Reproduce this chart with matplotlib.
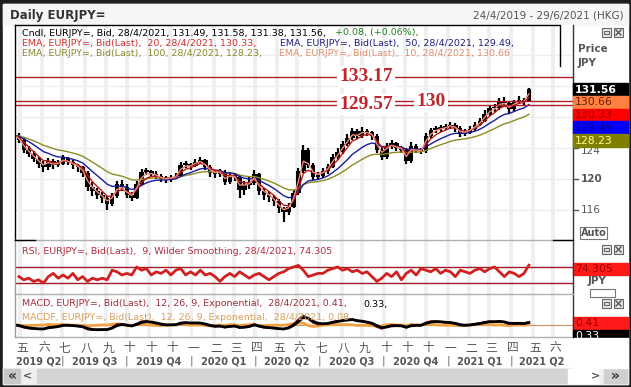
import numpy as np
import pandas as pd
import matplotlib
matplotlib.use("Agg")
import matplotlib.pyplot as plt
from matplotlib.patches import Rectangle

W, H = 631, 387

# weekly EURJPY= candles, 24/4/2019 .. 28/4/2021
first_open = 125.6
closes = [125.0, 123.8, 123.2, 122.6, 122.0, 121.5, 122.3, 121.8, 122.0, 122.7,
          122.2, 121.8, 121.5, 120.8, 119.0, 118.4, 118.0, 117.5, 116.8, 117.8,
          119.3, 119.0, 118.0, 117.6, 119.4, 120.9, 121.0, 120.7, 120.4, 120.0,
          119.9, 120.2, 120.4, 121.8, 121.9, 121.7, 122.2, 122.4, 121.6, 120.8,
          120.6, 120.9, 119.6, 120.5, 120.3, 118.6, 119.2, 119.5, 120.6, 118.5,
          118.0, 117.7, 117.1, 116.2, 115.7, 116.4, 118.2, 121.0, 123.8, 121.8,
          120.3, 120.4, 121.0, 121.6, 122.8, 123.5, 124.5, 125.3, 126.2, 125.6,
          126.2, 126.0, 125.6, 123.8, 122.8, 124.2, 124.6, 124.0, 123.8, 122.3,
          124.3, 123.7, 123.6, 125.6, 126.3, 126.5, 126.6, 126.7, 127.0, 126.6,
          125.8, 126.0, 126.4, 127.0, 127.5, 128.4, 129.1, 129.2, 130.0, 129.8,
          129.0, 129.9, 130.2, 130.0, 131.56]
highs = [126.0, 125.3, 124.2, 123.6, 122.9, 122.3, 122.7, 122.6, 122.5, 123.1,
         122.9, 122.4, 122.0, 121.7, 121.0, 119.6, 118.9, 118.3, 117.8, 118.2,
         119.8, 119.9, 119.3, 118.3, 119.7, 121.3, 121.4, 121.2, 121.0, 120.6,
         120.4, 120.5, 120.8, 122.2, 122.3, 122.1, 122.6, 122.8, 122.6, 121.8,
         121.1, 121.3, 121.1, 120.9, 120.8, 120.5, 119.8, 120.2, 121.2, 120.8,
         118.9, 118.4, 118.0, 117.4, 116.4, 116.9, 118.6, 121.4, 124.4, 124.0,
         122.1, 120.9, 121.4, 122.0, 123.2, 124.0, 124.9, 125.8, 126.6, 126.5,
         126.7, 126.5, 126.2, 125.8, 124.1, 124.6, 125.0, 124.8, 124.3, 124.0,
         124.8, 124.5, 124.0, 126.0, 126.6, 126.8, 127.0, 127.1, 127.4, 127.2,
         126.8, 126.4, 126.8, 127.4, 127.9, 128.9, 129.6, 129.7, 130.4, 130.6,
         130.0, 130.2, 130.7, 130.5, 131.7]
lows = [124.6, 123.4, 122.8, 122.2, 121.4, 120.9, 121.2, 121.3, 121.5, 121.8,
        121.8, 121.3, 120.9, 120.3, 118.5, 117.8, 117.4, 116.9, 116.0, 116.5,
        117.6, 118.5, 117.6, 117.1, 117.4, 119.2, 120.5, 120.3, 120.0, 119.6,
        119.5, 119.6, 120.0, 120.2, 121.4, 121.2, 121.5, 121.9, 121.2, 120.3,
        120.1, 120.2, 119.2, 119.3, 119.8, 117.5, 117.9, 118.7, 119.2, 117.9,
        117.3, 117.0, 116.5, 115.6, 114.5, 115.3, 116.2, 118.0, 120.8, 121.4,
        119.9, 119.9, 120.1, 120.7, 121.4, 122.5, 123.2, 124.2, 125.0, 125.1,
        125.3, 125.5, 125.0, 123.3, 122.4, 122.6, 123.9, 123.6, 123.3, 121.9,
        122.1, 123.3, 123.2, 123.4, 125.3, 126.0, 126.1, 126.3, 126.4, 126.1,
        125.4, 125.5, 125.8, 126.2, 126.8, 127.3, 128.1, 128.7, 128.9, 129.3,
        128.4, 128.8, 129.7, 129.6, 129.9]
rsi = [46, 38, 42, 34, 38, 30, 46, 54, 42, 50, 42, 54, 38, 46, 34, 42, 38, 42, 38, 62,
       58, 50, 54, 50, 70, 62, 66, 50, 58, 54, 62, 50, 62, 66, 50, 58, 50, 62, 50, 54,
       46, 34, 46, 54, 46, 58, 50, 42, 50, 54, 46, 38, 46, 54, 58, 66, 70, 74, 62, 46,
       50, 54, 54, 62, 66, 70, 62, 66, 58, 62, 54, 58, 46, 34, 42, 54, 46, 58, 38, 54,
       62, 50, 66, 62, 58, 66, 54, 62, 58, 46, 62, 58, 54, 62, 66, 58, 66, 70, 58, 46,
       58, 54, 46, 54, 74.305]

ema_periods = [10, 20, 50, 100]
ema_colors = ["#f08a78", "#b81818", "#1a1a9a", "#8c8c24"]

levels = [133.17, 130.0, 129.57]
level_labels = ["133.17", "130", "129.57"]
level_label_x = [366, 431, 366]   # pixel x of the label centres

month_labels = ["一", "二", "三", "四", "五", "六", "七", "八", "九", "十", "十", "十"]

# side boxes: value, box colour, text colour
side_boxes = [("131.56", "#000000", "#ffffff"), ("130.66", "#ff8040", "#6a2000"),
              ("130.33", "#ff0000", "#a00000"), ("129.49", "#0000ff", "#000090"),
              ("128.23", "#808000", "#ffff90")]

days = pd.bdate_range("2019-04-24", "2021-06-29")
N = len(days)
xs = np.arange(len(closes)) * 5 + 4
opens = [first_open] + closes[:-1]


def px(i):
    return 15 + i * (558 / (N - 1))


def rect(x0, y0, x1, y1):
    return [x0 / W, 1 - y1 / H, (x1 - x0) / W, (y1 - y0) / H]


def ema(vals, n):
    a = 1 - (1 - 2 / (n + 1)) ** 5    # daily period -> weekly step
    return pd.Series(vals).ewm(alpha=a, adjust=False).mean().values


fig = plt.figure(figsize=(W / 100, H / 100), dpi=100, facecolor="#1e1e1e")

bg = fig.add_axes([0, 0, 1, 1], zorder=-1)
bg.set_xlim(0, W)
bg.set_ylim(H, 0)
bg.axis("off")
bg.add_patch(Rectangle((3, 4), 625, 380, color="#ffffff"))
bg.add_patch(Rectangle((3, 4), 625, 21, color="#f6f6f6"))

month_idx = [i for i in range(1, N) if days[i].month != days[i - 1].month]

ax = fig.add_axes(rect(15, 25, 573, 240))
ax_rsi = fig.add_axes(rect(15, 240, 573, 294))
ax_macd = fig.add_axes(rect(15, 294, 573, 337))
for a in (ax, ax_rsi, ax_macd):
    a.set_xlim(0, N - 1)
    a.set_xticks([])
    a.set_yticks([])
    for s in a.spines.values():
        s.set_visible(False)
    for i in month_idx:
        a.axvspan(i - 2, i + 2, color="#efefef", lw=0, zorder=0)

# main price panel
ax.set_ylim(112.13, 139.87)
for g in range(116, 140, 4):
    ax.axhline(g, color="#eeeeee", lw=1, zorder=0)
ax.vlines(xs, lows, highs, color="black", lw=1.6, zorder=2)
body_lo = np.minimum(opens, closes)
body_h = np.maximum(np.abs(np.array(closes) - np.array(opens)), 0.25)
ax.bar(xs, body_h, bottom=body_lo, width=4.6, color="black", zorder=2)

ema_x = np.concatenate([[0], xs])
ema_src = [first_open] + closes
for n, c in zip(ema_periods[::-1], ema_colors[::-1]):
    ax.plot(ema_x, ema(ema_src, n), color=c, lw=1, zorder=3)

for lv, lab, lx in zip(levels, level_labels, level_label_x):
    ax.axhline(lv, color="#b0202a", lw=1, zorder=4)
    ax.text((lx - 15) * (N - 1) / 558, lv, lab, ha="center", va="center",
            fontsize=14, fontweight="bold", family="Liberation Serif", color="#c0272d",
            bbox=dict(facecolor="white", edgecolor="none", pad=1.5), zorder=5)

# RSI panel
ax_rsi.set_ylim(2.5, 137.5)
ax_rsi.axhline(70, color="#a01c24", lw=1)
ax_rsi.axhline(30, color="#a01c24", lw=1)
ax_rsi.plot(xs, rsi, color="#d02020", lw=2)

# MACD panel
e12 = ema(ema_src, 12)
e26 = ema(ema_src, 26)
macd = e12 - e26
sig = pd.Series(macd).ewm(alpha=1 - (1 - 2 / 10) ** 5, adjust=False).mean().values
hist = macd - sig
R = 8.0
ax_macd.set_ylim(-0.279 * R, 0.721 * R)
ax_macd.axhline(0, color="#c89060", lw=0.8)
ax_macd.plot(ema_x, hist, color="#f0a040", lw=2)
ax_macd.plot(ema_x, macd, color="#8b1010", lw=1.5)
ax_macd.plot(ema_x, sig, color="black", lw=2)

# overlay: frames, texts, side panel
ov = fig.add_axes([0, 0, 1, 1], zorder=5)
ov.set_xlim(0, W)
ov.set_ylim(H, 0)
ov.axis("off")
ov.patch.set_alpha(0)

ov.plot([15, 15], [25, 240], color="black", lw=1)
ov.plot([15, 15], [240, 337], color="#999999", lw=1)
ov.plot([573, 573], [25, 337], color="#333333", lw=1)
for y in (240, 294, 337):
    ov.plot([15, 573], [y, y], color="#b0b0b0", lw=1)
ov.plot([15, 35], [240, 240], color="black", lw=1)
ov.plot([553, 573], [240, 240], color="black", lw=1)
ov.plot([15, 560, 560], [25, 25, 66], color="black", lw=1)

ov.text(10, 15, "Daily EURJPY=", fontsize=8.5, fontweight="bold", color="#333333", va="center")
ov.text(624, 15, "24/4/2019 - 29/6/2021 (HKG)", fontsize=7.5, color="#555555", va="center", ha="right")

fs = 6.8
ov.text(22, 33, "Cndl, EURJPY=, Bid, 28/4/2021, 131.49, 131.58, 131.38, 131.56,", fontsize=fs, color="black", va="center")
ov.text(335, 33, "+0.08, (+0.06%),", fontsize=fs, color="#208020", va="center")
ov.text(22, 43, "EMA, EURJPY=, Bid(Last),  20, 28/4/2021, 130.33,", fontsize=fs, color="#d03030", va="center")
ov.text(280, 43, "EMA, EURJPY=, Bid(Last),  50, 28/4/2021, 129.49,", fontsize=fs, color="#202080", va="center")
ov.text(22, 53, "EMA, EURJPY=, Bid(Last),  100, 28/4/2021, 128.23,", fontsize=fs, color="#8a8a30", va="center")
ov.text(279, 53, "EMA, EURJPY=, Bid(Last),  10, 28/4/2021, 130.66", fontsize=fs, color="#e09070", va="center")
ov.text(22, 251, "RSI, EURJPY=, Bid(Last),  9, Wilder Smoothing, 28/4/2021, 74.305", fontsize=fs, color="#b03040", va="center")
ov.text(22, 304, "MACD, EURJPY=, Bid(Last),  12, 26, 9, Exponential,  28/4/2021, 0.41,", fontsize=fs, color="#a03040", va="center")
ov.text(363, 304, "0.33,", fontsize=fs, color="black", va="center")
ov.text(22, 318, "MACDF, EURJPY=, Bid(Last),  12, 26, 9, Exponential,  28/4/2021, 0.08", fontsize=fs, color="#d8a060", va="center")


def icons(y):
    ov.add_patch(Rectangle((602, y), 9, 9, facecolor="#e8e8e8", edgecolor="#666666", lw=0.8))
    ov.add_patch(Rectangle((604, y + 3), 5, 3, facecolor="none", edgecolor="#666666", lw=0.8))
    ov.add_patch(Rectangle((614, y), 9, 9, facecolor="#e8e8e8", edgecolor="#666666", lw=0.8))
    ov.plot([616, 621], [y + 2, y + 7], color="#555555", lw=1)
    ov.plot([616, 621], [y + 7, y + 2], color="#555555", lw=1)


icons(28)
icons(245)
icons(299)

ov.text(578, 49, "Price", fontsize=7.5, fontweight="bold", color="#555555", va="center")
ov.text(578, 63, "JPY", fontsize=7.5, fontweight="bold", color="#555555", va="center")
for v, bold in ((124, False), (120, True), (116, False)):
    y = 210 - (v - 116) * 7.75
    ov.plot([573, 578], [y, y], color="#555555", lw=1)
    ov.text(581, y + (3 if v == 124 else 0), str(v), fontsize=7.5, color="#555555", va="center",
            fontweight="bold" if bold else "normal")
for j, (lab, bc, tc) in enumerate(side_boxes):
    y0 = 83 + j * 12.8
    ov.add_patch(Rectangle((573, y0), 55, 12.8, color=bc, zorder=3))
    ov.text(575, y0 + 6.6, lab, fontsize=7.8, color=tc, va="center", zorder=4,
            fontweight="bold" if j == 0 else "normal")
ov.add_patch(Rectangle((580, 227), 27, 12, facecolor="white", edgecolor="#777777", lw=0.8))
ov.text(593.5, 233, "Auto", fontsize=7, fontweight="bold", color="#555555", ha="center", va="center")

ov.add_patch(Rectangle((573, 263), 55, 11.5, color="#ff1a1a"))
ov.text(575, 268.8, "74.305", fontsize=7.8, color="#a00000", va="center")
ov.text(588, 281, "JPY", fontsize=7.5, fontweight="bold", color="#555555", va="center")
ov.add_patch(Rectangle((590, 289), 25, 8, facecolor="white", edgecolor="#777777", lw=0.8))
ov.add_patch(Rectangle((573, 317), 55, 13, color="#ff1a1a"))
ov.text(575, 323.5, "0.41", fontsize=7.8, color="#a00000", va="center")
ov.add_patch(Rectangle((573, 330), 55, 7, color="black", zorder=3))
ov.text(575, 336, "0.33", fontsize=7.8, color="white", va="center", zorder=4)
ov.add_patch(Rectangle((574, 337.5), 54, 30, color="white", zorder=5))

# date axis
for i in month_idx:
    ov.text(px(i) + 2, 348, month_labels[days[i].month - 1], fontsize=8.5,
            family="Noto Sans CJK SC", color="#555555", ha="center", va="center")
q_idx = [0] + [i for i in month_idx if days[i].month in (1, 4, 7, 10)] + [N - 1]
for k in range(len(q_idx) - 1):
    a, b = q_idx[k], q_idx[k + 1]
    d = days[a]
    q = (d.month - 1) // 3 + 1
    ov.text((px(a) + px(b)) / 2, 361, f"{d.year} Q{q}", fontsize=7, fontweight="bold",
            color="#555555", ha="center", va="center")
    if k > 0:
        ov.text(px(a), 361, "|", fontsize=7.5, color="#666666", ha="center", va="center")

# scrollbar
ov.add_patch(Rectangle((3, 368), 625, 16, color="#efefef"))
ov.add_patch(Rectangle((37, 369), 531, 14, color="#d4d4d4"))
ov.add_patch(Rectangle((568, 369), 30, 14, color="#ffffff"))
ov.add_patch(Rectangle((4, 369), 16, 14, color="#c8c8c8"))
ov.add_patch(Rectangle((604, 369), 23, 14, color="#d0d0d0"))
ov.text(12, 376, "«", fontsize=10, fontweight="bold", color="#333333", ha="center", va="center")
ov.text(28, 376, "<", fontsize=8, fontweight="bold", color="#555555", ha="center", va="center")
ov.text(596, 376, ">", fontsize=8, fontweight="bold", color="#555555", ha="center", va="center")
ov.text(615, 376, "»", fontsize=10, fontweight="bold", color="#333333", ha="center", va="center")

fig.savefig("out.png", dpi=100, facecolor=fig.get_facecolor())
